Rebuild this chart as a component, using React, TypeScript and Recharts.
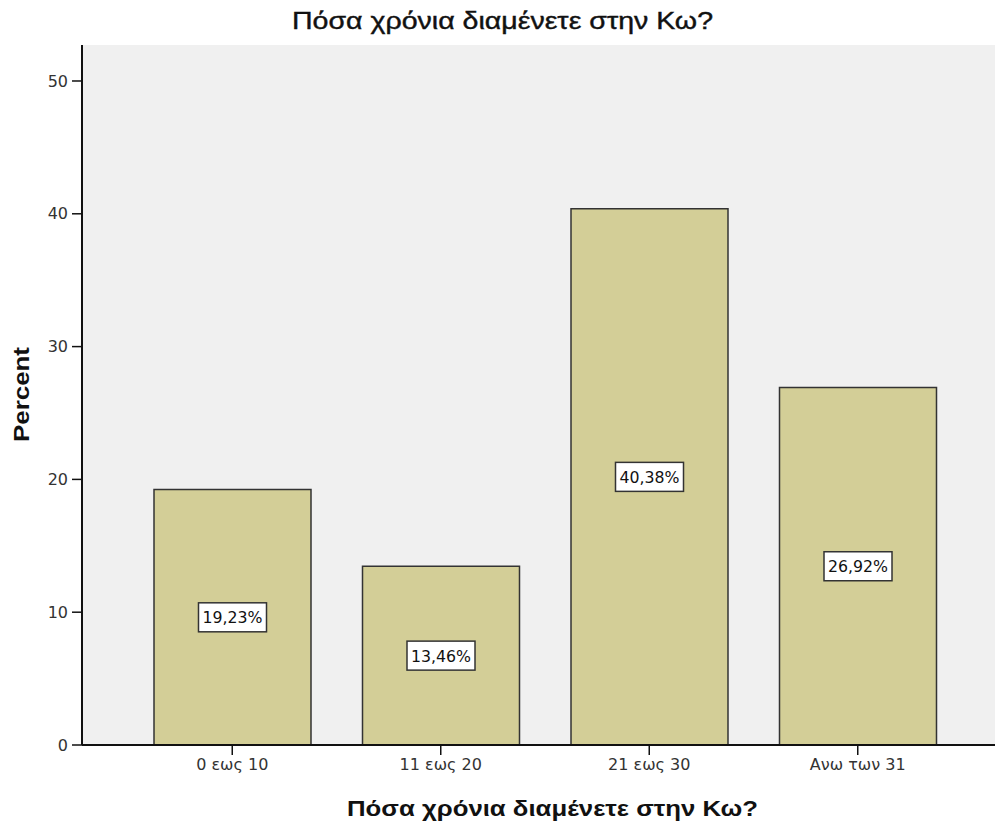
import React from 'react';
import { BarChart, Bar, XAxis, YAxis, CartesianGrid, LabelList } from 'recharts';

const categories = ['0 εως 10', '11 εως 20', '21 εως 30', 'Ανω των 31'];
const percents = [19.23, 13.46, 40.38, 26.92];
const labels = ['19,23%', '13,46%', '40,38%', '26,92%'];
const yTicks = [0, 10, 20, 30, 40, 50];
const title = 'Πόσα χρόνια διαμένετε στην Κω?';
const yTitle = 'Percent';

const data = categories.map((c, i) => ({ name: c, value: percents[i], label: labels[i] }));

const FONT = '"DejaVu Sans", "Liberation Sans", sans-serif';
const TFONT = '"Liberation Sans", Arial, sans-serif';

const BoxLabel = (props: any) => {
  const { x, y, width, height, value } = props;
  const cx = x + width / 2;
  const cy = y + height / 2;
  const w = 68;
  const h = 29;
  return (
    <g>
      <rect x={cx - w / 2} y={cy - h / 2} width={w} height={h} fill="#ffffff" stroke="#333333" strokeWidth={1.5} />
      <text x={cx} y={cy + 6} textAnchor="middle" fontFamily={FONT} fontSize={16} fill="#111" textLength={60} lengthAdjust="spacingAndGlyphs">{value}</text>
    </g>
  );
};

export default function App() {
  return (
    <div style={{ position: 'absolute', left: 0, top: 0, width: 995, height: 825, background: '#fff' }}>
      <BarChart width={995} height={825} data={data} margin={{ top: 45, right: 0, bottom: 0, left: 0 }} barSize={157}>
        <CartesianGrid fill="#f0f0f0" horizontal={false} vertical={false} />
        <XAxis
          xAxisId="top"
          orientation="top"
          dataKey="name"
          height={0}
          tick={false}
          tickLine={false}
          axisLine={{ stroke: '#999999', strokeWidth: 2 }}
          padding={{ left: 46, right: 33 }}
        />
        <XAxis
          dataKey="name"
          height={80}
          padding={{ left: 46, right: 33 }}
          axisLine={{ stroke: '#111', strokeWidth: 2 }}
          tickLine={{ stroke: '#111', strokeWidth: 1.5 }}
          tickSize={10}
          tick={{ fontFamily: FONT, fontSize: 16, fill: '#333' }}
          tickMargin={4}
        />
        <YAxis
          width={82}
          domain={[0, 52.71]}
          ticks={yTicks}
          allowDataOverflow
          axisLine={{ stroke: '#111', strokeWidth: 2 }}
          tickLine={{ stroke: '#111', strokeWidth: 1.5 }}
          tickSize={10}
          tickMargin={4}
          tick={{ fontFamily: FONT, fontSize: 16, fill: '#333' }}
        />
        <Bar dataKey="value" fill="#d3ce97" stroke="#333333" strokeWidth={1.5} isAnimationActive={false}>
          <LabelList dataKey="label" content={<BoxLabel />} />
        </Bar>
        <text x={292} y={29} fontFamily={TFONT} fontSize={23} fill="#111" stroke="#111" strokeWidth={0.4} textLength={421} lengthAdjust="spacingAndGlyphs">{title}</text>
        <text x={347} y={816} fontFamily={TFONT} fontSize={22} fontWeight="bold" fill="#111" textLength={411} lengthAdjust="spacingAndGlyphs">{title}</text>
        <text x={0} y={0} transform="translate(29, 442) rotate(-90)" fontFamily={TFONT} fontSize={22} fontWeight="bold" fill="#111" textLength={95} lengthAdjust="spacingAndGlyphs">{yTitle}</text>
      </BarChart>
    </div>
  );
}
